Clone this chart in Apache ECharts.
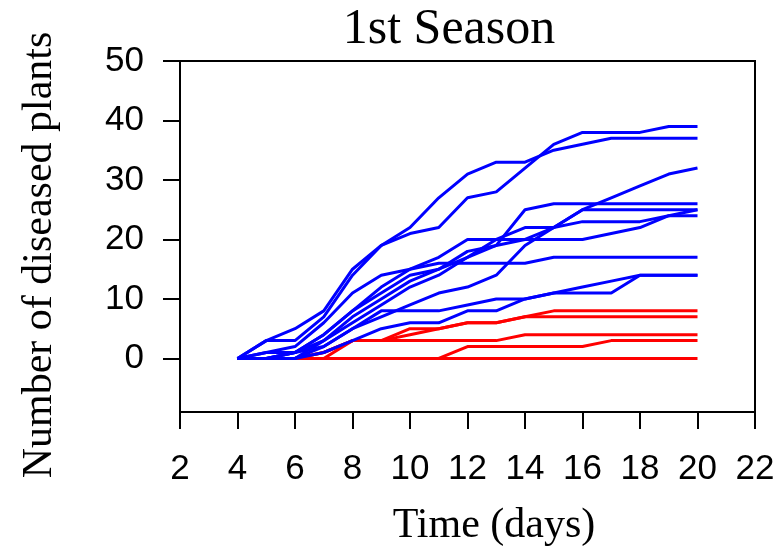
<!DOCTYPE html>
<html>
<head>
<meta charset="utf-8">
<script src="https://cdn.jsdelivr.net/npm/echarts@6/dist/echarts.min.js"></script>
<style>
    html,body{margin:0;padding:0;background:#fff;}
    #chart{width:780px;height:550px;}
</style>
</head>
<body>
<div id="chart"></div>
<script>
var days=[4,5,6,7,8,9,10,11,12,13,14,15,16,17,18,19,20];

// diseased plants per line (blue)
var blue1=[0,3,3,7,14,19,21,22,27,28,32,36,38,38,38,39,39];
var blue2=[0,3,5,8,15,19,22,27,31,33,33,35,36,37,37,37,37];
var blue3=[0,1,2,6,11,14,15,16,16,16,16,17,17,17,17,17,17];
var blue4=[0,0,1,4,8,12,15,17,20,20,20,20,20,21,22,24,25];
var blue5=[0,1,1,4,8,11,14,15,17,19,25,26,26,26,26,26,26];
var blue6=[0,0,0,3,7,10,13,15,18,19,20,22,23,23,23,24,24];
var blue7=[0,0,1,3,6,9,12,14,17,20,22,22,25,25,25,25,25];
var blue8=[0,0,0,2,5,7,9,11,12,14,19,22,25,27,29,31,32];
var blue9=[0,0,1,2,5,8,8,8,9,10,10,11,12,13,14,14,14];
var blue10=[0,0,0,1,3,5,6,6,8,8,10,11,11,11,14,14,14];

// red lines
var red1=[0,0,0,1,3,3,5,5,6,6,7,8,8,8,8,8,8];
var red2=[0,0,0,1,3,3,4,5,6,6,7,7,7,7,7,7,7];
var red3=[0,0,0,0,0,0,0,0,2,2,2,2,2,3,3,3,3];
var red4=[0,0,0,0,3,3,3,3,3,3,4,4,4,4,4,4,4];
var red5=[0,0,0,0,0,0,0,0,0,0,0,0,0,0,0,0,0];

var xTicks=[2,4,6,8,10,12,14,16,18,20,22];
var yTicks=[0,10,20,30,40,50];

var blueLines=[blue1,blue2,blue3,blue4,blue5,blue6,blue7,blue8,blue9,blue10];
var redLines=[red1,red2,red3,red4,red5];

function makeSeries(values,color){
    var data=[];
    for(var i=0;i<days.length;i++){
        data.push([days[i],values[i]]);
    }
    return {
        type:'line',
        data:data,
        showSymbol:false,
        symbol:'none',
        silent:true,
        animation:false,
        lineStyle:{color:color,width:3},
        z:color=='#ff0000'?2:3
    };
}

var series=[];
for(var r=0;r<redLines.length;r++) series.push(makeSeries(redLines[r],'#ff0000'));
for(var b=0;b<blueLines.length;b++) series.push(makeSeries(blueLines[b],'#0000ff'));

var sans='"Liberation Sans", Arial, sans-serif';
var serif='"Liberation Serif", "Times New Roman", serif';

var myChart=echarts.init(document.getElementById('chart'));
var option={
    animation:false,
    grid:{
        left:180,right:25,top:61,bottom:138,
        show:true,borderColor:'#000',borderWidth:2,backgroundColor:'transparent'
    },
    xAxis:{
        type:'value',
        min:2,max:22,interval:2,
        axisLine:{show:true,onZero:false,lineStyle:{color:'#000',width:2}},
        axisTick:{show:true,length:17,lineStyle:{color:'#000',width:2}},
        axisLabel:{
            color:'#000',fontFamily:sans,fontSize:35,margin:40,
            customValues:xTicks
        },
        splitLine:{show:false}
    },
    yAxis:{
        type:'value',
        min:-9,max:50,
        axisLine:{show:true,onZero:false,lineStyle:{color:'#000',width:2}},
        axisTick:{show:true,length:17,customValues:yTicks,lineStyle:{color:'#000',width:2}},
        axisLabel:{
            color:'#000',fontFamily:sans,fontSize:35,margin:36,
            customValues:yTicks
        },
        splitLine:{show:false}
    },
    graphic:[
        {type:'text',x:449,y:30,style:{text:'1st Season',font:'50px '+serif,fill:'#000',textAlign:'center',textVerticalAlign:'middle'}},
        {type:'text',x:494,y:526,style:{text:'Time (days)',font:'42px '+serif,fill:'#000',textAlign:'center',textVerticalAlign:'middle'}},
        {type:'text',x:40,y:255,rotation:Math.PI/2,style:{text:'Number of diseased plants',font:'42px '+serif,fill:'#000',textAlign:'center',textVerticalAlign:'middle'}}
    ],
    series:series
};
myChart.setOption(option);
</script>
</body>
</html>
